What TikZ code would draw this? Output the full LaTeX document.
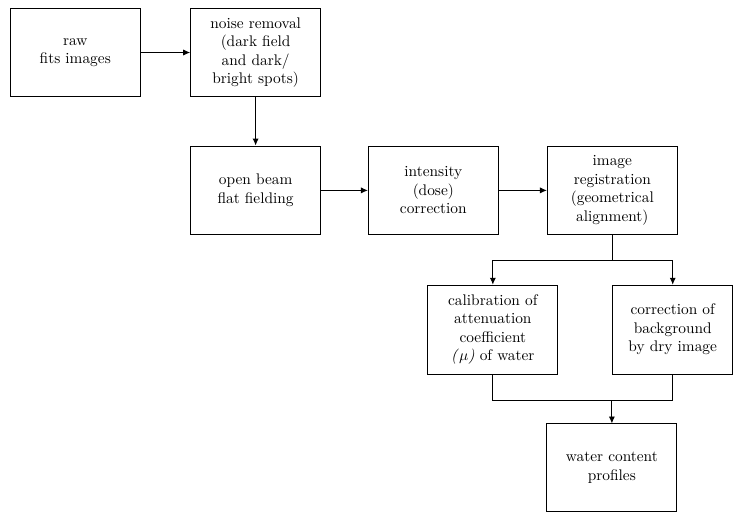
\documentclass[tikz,border=0pt]{standalone}
\usetikzlibrary{arrows.meta}
\begin{document}
\begin{tikzpicture}[
  stage/.style={draw, line width=0.6pt, minimum width=2.97cm, minimum height=2.03cm,
    align=center, inner sep=2pt},
  flow/.style={-{Latex[length=4.5pt,width=4pt]}, line width=0.6pt},
  link/.style={line width=0.6pt}]
\useasboundingbox (0,0) rectangle (16.77,-11.72);

% pre-processing chain
\node[stage] (raw) at (1.72,-1.20) {raw\\fits images};
\node[stage] (noise) at (5.84,-1.20) {noise removal\\(dark field\\and dark/\\bright spots)};
\node[stage] (open) at (5.84,-4.35) {open beam\\flat fielding};
\node[stage] (dose) at (9.90,-4.35) {intensity\\(dose)\\correction};
\node[stage] (reg) at (13.99,-4.35) {image\\registration\\(geometrical\\alignment)};

% the two branches
\node[stage] (calib) at (11.26,-7.53) {calibration of\\attenuation\\coefficient\\\textit{(}$\mu$\textit{)} of water};
\node[stage, minimum width=2.74cm] (corr) at (15.37,-7.53) {correction of\\background\\by dry image};

\node[stage, minimum height=2.01cm] (water) at (13.98,-10.69) {water content\\profiles};

\draw[flow] (raw) -- (noise);
\draw[flow] (noise) -- (open);
\draw[flow] (open) -- (dose);
\draw[flow] (dose) -- (reg);

\coordinate (split) at (reg.south |- 0,-5.94);
\draw[link] (reg.south) -- (split);
\draw[flow] (split) -| (calib.north);
\draw[flow] (split) -| (corr.north);

\coordinate (merge) at (water.north |- 0,-9.16);
\draw[link] (calib.south) |- (merge) -| (corr.south);
\draw[flow] (merge) -- (water);
\end{tikzpicture}
\end{document}
